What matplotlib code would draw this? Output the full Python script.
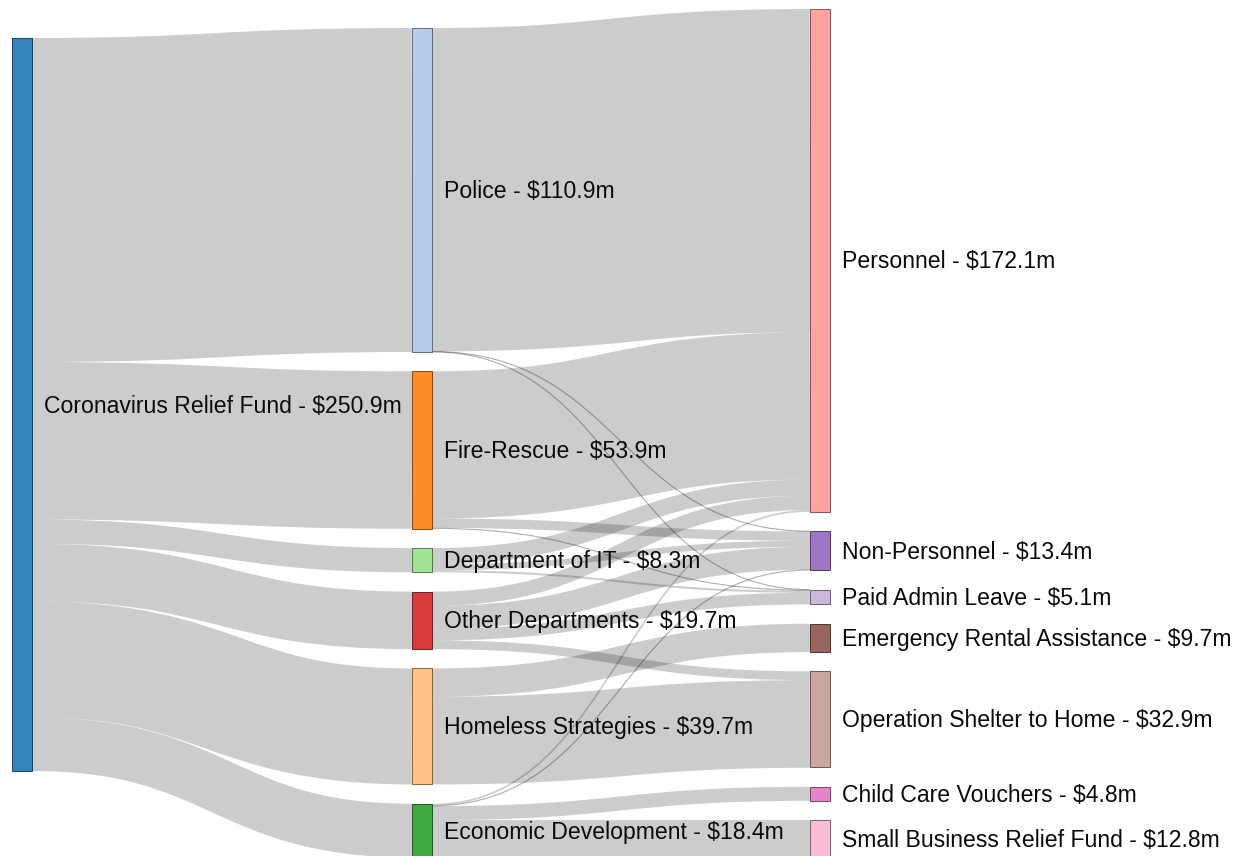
import numpy as np
import matplotlib.pyplot as plt
from matplotlib.path import Path
from matplotlib.patches import PathPatch, Rectangle
import matplotlib.colors as mcolors

fund_name = "Coronavirus Relief Fund"
fund_total = 250.9

departments = ["Police", "Fire-Rescue", "Department of IT", "Other Departments",
               "Homeless Strategies", "Economic Development"]
department_totals = [110.9, 53.9, 8.3, 19.7, 39.7, 18.4]

uses = ["Personnel", "Non-Personnel", "Paid Admin Leave", "Emergency Rental Assistance",
        "Operation Shelter to Home", "Child Care Vouchers", "Small Business Relief Fund"]
use_totals = [172.1, 13.4, 5.1, 9.7, 32.9, 4.8, 12.8]

# department -> use flows ($m), estimated from the band widths
flow_from = ["Police", "Police", "Police",
             "Fire-Rescue", "Fire-Rescue", "Fire-Rescue",
             "Department of IT", "Department of IT", "Department of IT",
             "Other Departments", "Other Departments", "Other Departments", "Other Departments",
             "Homeless Strategies", "Homeless Strategies",
             "Economic Development", "Economic Development", "Economic Development",
             "Economic Development"]
flow_to = ["Personnel", "Non-Personnel", "Paid Admin Leave",
           "Personnel", "Non-Personnel", "Paid Admin Leave",
           "Personnel", "Non-Personnel", "Paid Admin Leave",
           "Personnel", "Non-Personnel", "Paid Admin Leave", "Operation Shelter to Home",
           "Emergency Rental Assistance", "Operation Shelter to Home",
           "Personnel", "Non-Personnel", "Child Care Vouchers", "Small Business Relief Fund"]
flow_value = [110.7, 0.1, 0.1,
              50.4, 3.2, 0.3,
              5.5, 2.1, 0.7,
              4.9, 7.8, 4.0, 3.0,
              9.7, 30.0,
              0.6, 0.2, 4.8, 12.8]

colors = {
    "Coronavirus Relief Fund": "#1f77b4",
    "Police": "#aec7e8", "Fire-Rescue": "#ff7f0e", "Department of IT": "#98df8a",
    "Other Departments": "#d62728", "Homeless Strategies": "#ffbb78",
    "Economic Development": "#2ca02c",
    "Personnel": "#ff9896", "Non-Personnel": "#9467bd", "Paid Admin Leave": "#c5b0d5",
    "Emergency Rental Assistance": "#8c564b", "Operation Shelter to Home": "#c49c94",
    "Child Care Vouchers": "#e377c2", "Small Business Relief Fund": "#f7b6d2",
}

# layout in pixels
W, H = 1245, 856
scale = 733 / fund_total
node_w = 20
pad = 19.3
col_x = [12, 412, 810]
col_top = [38, 28, 9]

nodes = {}
columns = [([fund_name], [fund_total]), (departments, department_totals), (uses, use_totals)]
for c, (names, vals) in enumerate(columns):
    y = col_top[c]
    for n, v in zip(names, vals):
        h = v * scale
        nodes[n] = dict(x0=col_x[c], x1=col_x[c] + node_w, y0=y, y1=y + h, value=v)
        y += h + pad

links = [(fund_name, d, v) for d, v in zip(departments, department_totals)]
links += list(zip(flow_from, flow_to, flow_value))

# stack link ends: at source by target position, at target by source position
sy = {}
ty = {}
for n in nodes:
    outs = sorted([i for i, l in enumerate(links) if l[0] == n], key=lambda i: nodes[links[i][1]]["y0"])
    y = nodes[n]["y0"]
    for i in outs:
        sy[i] = y
        y += links[i][2] * scale
    ins = sorted([i for i, l in enumerate(links) if l[1] == n], key=lambda i: nodes[links[i][0]]["y0"])
    y = nodes[n]["y0"]
    for i in ins:
        ty[i] = y
        y += links[i][2] * scale

dpi = 100
fig = plt.figure(figsize=(W / dpi, H / dpi), dpi=dpi)
ax = fig.add_axes([0, 0, 1, 1])
ax.set_xlim(0, W)
ax.set_ylim(H, 0)
ax.axis("off")

px = 72 / dpi
for i, (s, t, v) in enumerate(links):
    w = v * scale
    x0 = nodes[s]["x1"]
    x1 = nodes[t]["x0"]
    y0 = sy[i] + w / 2
    y1 = ty[i] + w / 2
    xm = (x0 + x1) / 2
    path = Path([(x0, y0), (xm, y0), (xm, y1), (x1, y1)],
                [Path.MOVETO, Path.CURVE4, Path.CURVE4, Path.CURVE4])
    thin = w < 1.5
    ax.add_patch(PathPatch(path, facecolor="none", edgecolor="black",
                           alpha=0.32 if thin else 0.2,
                           linewidth=max(1.1, w) * px, capstyle="butt"))

for n, nd in nodes.items():
    base = np.array(mcolors.to_rgb(colors[n]))
    ax.add_patch(Rectangle((nd["x0"], nd["y0"]), node_w, nd["y1"] - nd["y0"],
                           facecolor=colors[n], alpha=0.9,
                           edgecolor=base * 0.49, linewidth=1 * px))
    yc = (nd["y0"] + nd["y1"]) / 2
    ax.text(nd["x1"] + 11.5, yc + 8, f"{n} - ${nd['value']:.1f}m",
            fontsize=16.6, family="Liberation Sans", color="#0a0a0a", va="baseline", ha="left")

fig.savefig("out.png", dpi=dpi)
